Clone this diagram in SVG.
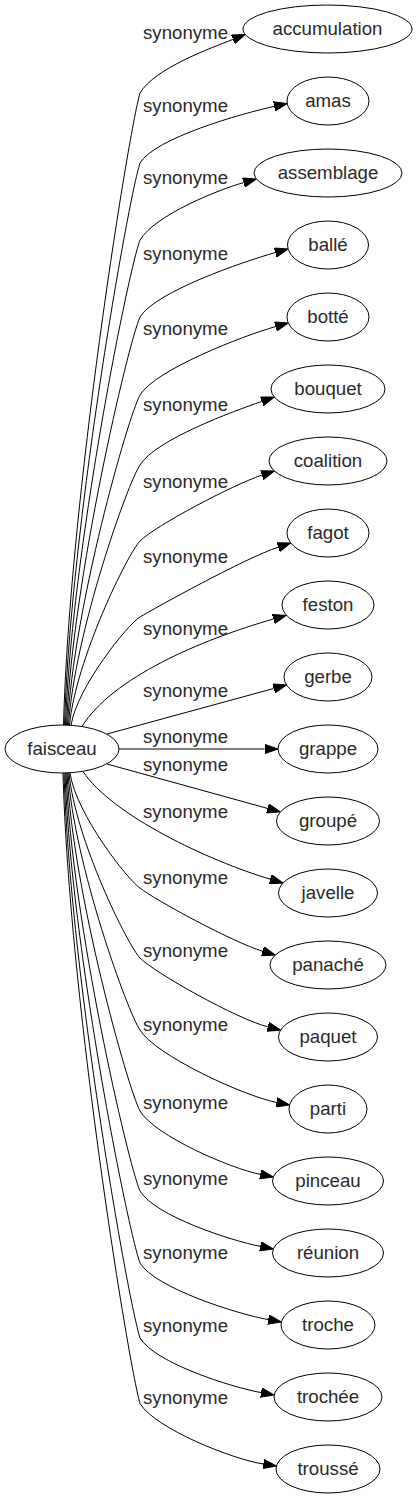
<svg xmlns="http://www.w3.org/2000/svg" width="417" height="1499" viewBox="0 0 417 1499">
<style>
.n ellipse{fill:#fff;stroke:#000;stroke-width:1}
.n text{font-family:"Liberation Sans",Arial,sans-serif;font-size:18.67px;text-anchor:middle;fill:#2a2a2a}
.e path{fill:none;stroke:#000;stroke-width:1;marker-end:url(#ah)}
.l text{font-family:"Liberation Sans",Arial,sans-serif;font-size:18.67px;fill:#2a2a2a}
</style>
<defs>
<marker id="ah" markerUnits="userSpaceOnUse" viewBox="0 -5 14 10" markerWidth="14" markerHeight="10" refX="0" refY="0" orient="auto">
<path d="M0,-4.7 L13.3,0 L0,4.7 Z" fill="#000" stroke="#000" stroke-width="1"/>
</marker>
</defs>
<rect width="417" height="1499" fill="#fff"/>
<g id="connectors" class="e">
<path d="M63.5,725.2 C69.5,500.8 128,134.7 140,93 C155,68 211.3,48 232.9,39.4"/>
<path d="M64.5,725.2 C70.5,525.6 128,200.1 140,163 C155,138 241.4,113.6 274.2,106.4"/>
<path d="M65.5,725.2 C71.5,553 128,272 140,240 C155,215 218.7,189.6 243.6,182.6"/>
<path d="M66.5,725.2 C72.5,580.3 128,343.9 140,317 C155,292 242.7,261.7 275.3,252.6"/>
<path d="M67.5,725.3 C73.5,608 128,416.8 140,395 C155,370 242.9,335.8 275.5,326.6"/>
<path d="M68.5,725.3 C74.5,632.9 128,482.2 140,465 C155,440 233,411.4 261.8,401.4"/>
<path d="M69.5,725.4 C75.5,659.9 128,553.2 140,541 C155,526 232.9,484.7 261.8,475.2"/>
<path d="M71,725.5 C77,687 128,624.2 140,617 C155,608 245.3,558 278.1,547.2"/>
<path d="M82,726.5 C112,678 200,640 273.5,619"/>
<path d="M107,734 L273.7,688.5"/>
<path d="M119,749 L264.7,749"/>
<path d="M107,764 L267.5,808.4"/>
<path d="M83,771.5 C112,815 207.5,860.4 270.3,879.2"/>
<path d="M70,773 C76,813.8 128,880.4 140,888 C155,900 233.2,942.4 262.6,951.2"/>
<path d="M69,773 C75,838.7 128,945.8 140,958 C155,973 236.8,1019 267.8,1026.8"/>
<path d="M68,773 C74,864.2 128,1013 140,1030 C155,1055 243,1095.7 276.5,1102.4"/>
<path d="M67,773 C73,893 128,1088.7 140,1111 C155,1136 230.8,1168.5 260.3,1174.4"/>
<path d="M66,773 C72,921.4 128,1163.4 140,1191 C155,1216 230.8,1240.5 260.3,1246.4"/>
<path d="M65,773 C71,947 128,1230.7 140,1263 C155,1288 236.7,1313.9 268.3,1319.6"/>
<path d="M64,773 C70,973.6 128,1300.7 140,1338 C155,1363 231.3,1387.2 261.1,1392.6"/>
<path d="M63,773 C69,996.8 128,1361.9 140,1403.5 C155,1428.5 232.8,1459.4 263.3,1464"/>
</g>
<g id="labels" class="l">
<text x="143" y="39">synonyme</text>
<text x="143" y="111.7">synonyme</text>
<text x="143" y="184">synonyme</text>
<text x="143" y="260">synonyme</text>
<text x="143" y="335">synonyme</text>
<text x="143" y="410.7">synonyme</text>
<text x="143" y="488">synonyme</text>
<text x="143" y="563">synonyme</text>
<text x="143" y="635">synonyme</text>
<text x="143" y="697">synonyme</text>
<text x="143" y="743">synonyme</text>
<text x="143" y="771">synonyme</text>
<text x="143" y="818">synonyme</text>
<text x="143" y="884">synonyme</text>
<text x="143" y="956.7">synonyme</text>
<text x="143" y="1031">synonyme</text>
<text x="143" y="1109">synonyme</text>
<text x="143" y="1185">synonyme</text>
<text x="143" y="1259">synonyme</text>
<text x="143" y="1332">synonyme</text>
<text x="143" y="1404">synonyme</text>
</g>
<g id="faisceau" class="n"><ellipse cx="62" cy="749" rx="57" ry="24"/><text x="62" y="755">faisceau</text></g>
<g id="accumulation" class="n"><ellipse cx="327.5" cy="29" rx="84.5" ry="24"/><text x="327.5" y="35">accumulation</text></g>
<g id="amas" class="n"><ellipse cx="328" cy="101" rx="41" ry="24"/><text x="328" y="107">amas</text></g>
<g id="assemblage" class="n"><ellipse cx="328" cy="173" rx="74" ry="24"/><text x="328" y="179">assemblage</text></g>
<g id="balle" class="n"><ellipse cx="328" cy="245" rx="40.5" ry="24"/><text x="328" y="251">ballé</text></g>
<g id="botte" class="n"><ellipse cx="328" cy="317" rx="41" ry="24"/><text x="328" y="323">botté</text></g>
<g id="bouquet" class="n"><ellipse cx="328" cy="389" rx="57" ry="24"/><text x="328" y="395">bouquet</text></g>
<g id="coalition" class="n"><ellipse cx="328" cy="461" rx="59" ry="24"/><text x="328" y="467">coalition</text></g>
<g id="fagot" class="n"><ellipse cx="328" cy="533" rx="41" ry="24"/><text x="328" y="539">fagot</text></g>
<g id="feston" class="n"><ellipse cx="328" cy="605" rx="46" ry="24"/><text x="328" y="611">feston</text></g>
<g id="gerbe" class="n"><ellipse cx="328" cy="677" rx="44" ry="24"/><text x="328" y="683">gerbe</text></g>
<g id="grappe" class="n"><ellipse cx="328" cy="749" rx="50" ry="24"/><text x="328" y="755">grappe</text></g>
<g id="groupe" class="n"><ellipse cx="328" cy="821" rx="51.5" ry="24"/><text x="328" y="827">groupé</text></g>
<g id="javelle" class="n"><ellipse cx="328" cy="893" rx="49.5" ry="24"/><text x="328" y="899">javelle</text></g>
<g id="panache" class="n"><ellipse cx="328" cy="965" rx="58" ry="24"/><text x="328" y="971">panaché</text></g>
<g id="paquet" class="n"><ellipse cx="328" cy="1037" rx="49.5" ry="24"/><text x="328" y="1043">paquet</text></g>
<g id="parti" class="n"><ellipse cx="328" cy="1109" rx="39" ry="24"/><text x="328" y="1115">parti</text></g>
<g id="pinceau" class="n"><ellipse cx="328" cy="1181" rx="55.5" ry="24"/><text x="328" y="1187">pinceau</text></g>
<g id="reunion" class="n"><ellipse cx="328" cy="1253" rx="55.5" ry="24"/><text x="328" y="1259">réunion</text></g>
<g id="troche" class="n"><ellipse cx="328" cy="1325" rx="47" ry="24"/><text x="328" y="1331">troche</text></g>
<g id="trochee" class="n"><ellipse cx="328" cy="1397" rx="54" ry="24"/><text x="328" y="1403">trochée</text></g>
<g id="trousse" class="n"><ellipse cx="328" cy="1469" rx="52" ry="24"/><text x="328" y="1475">troussé</text></g>
</svg>
